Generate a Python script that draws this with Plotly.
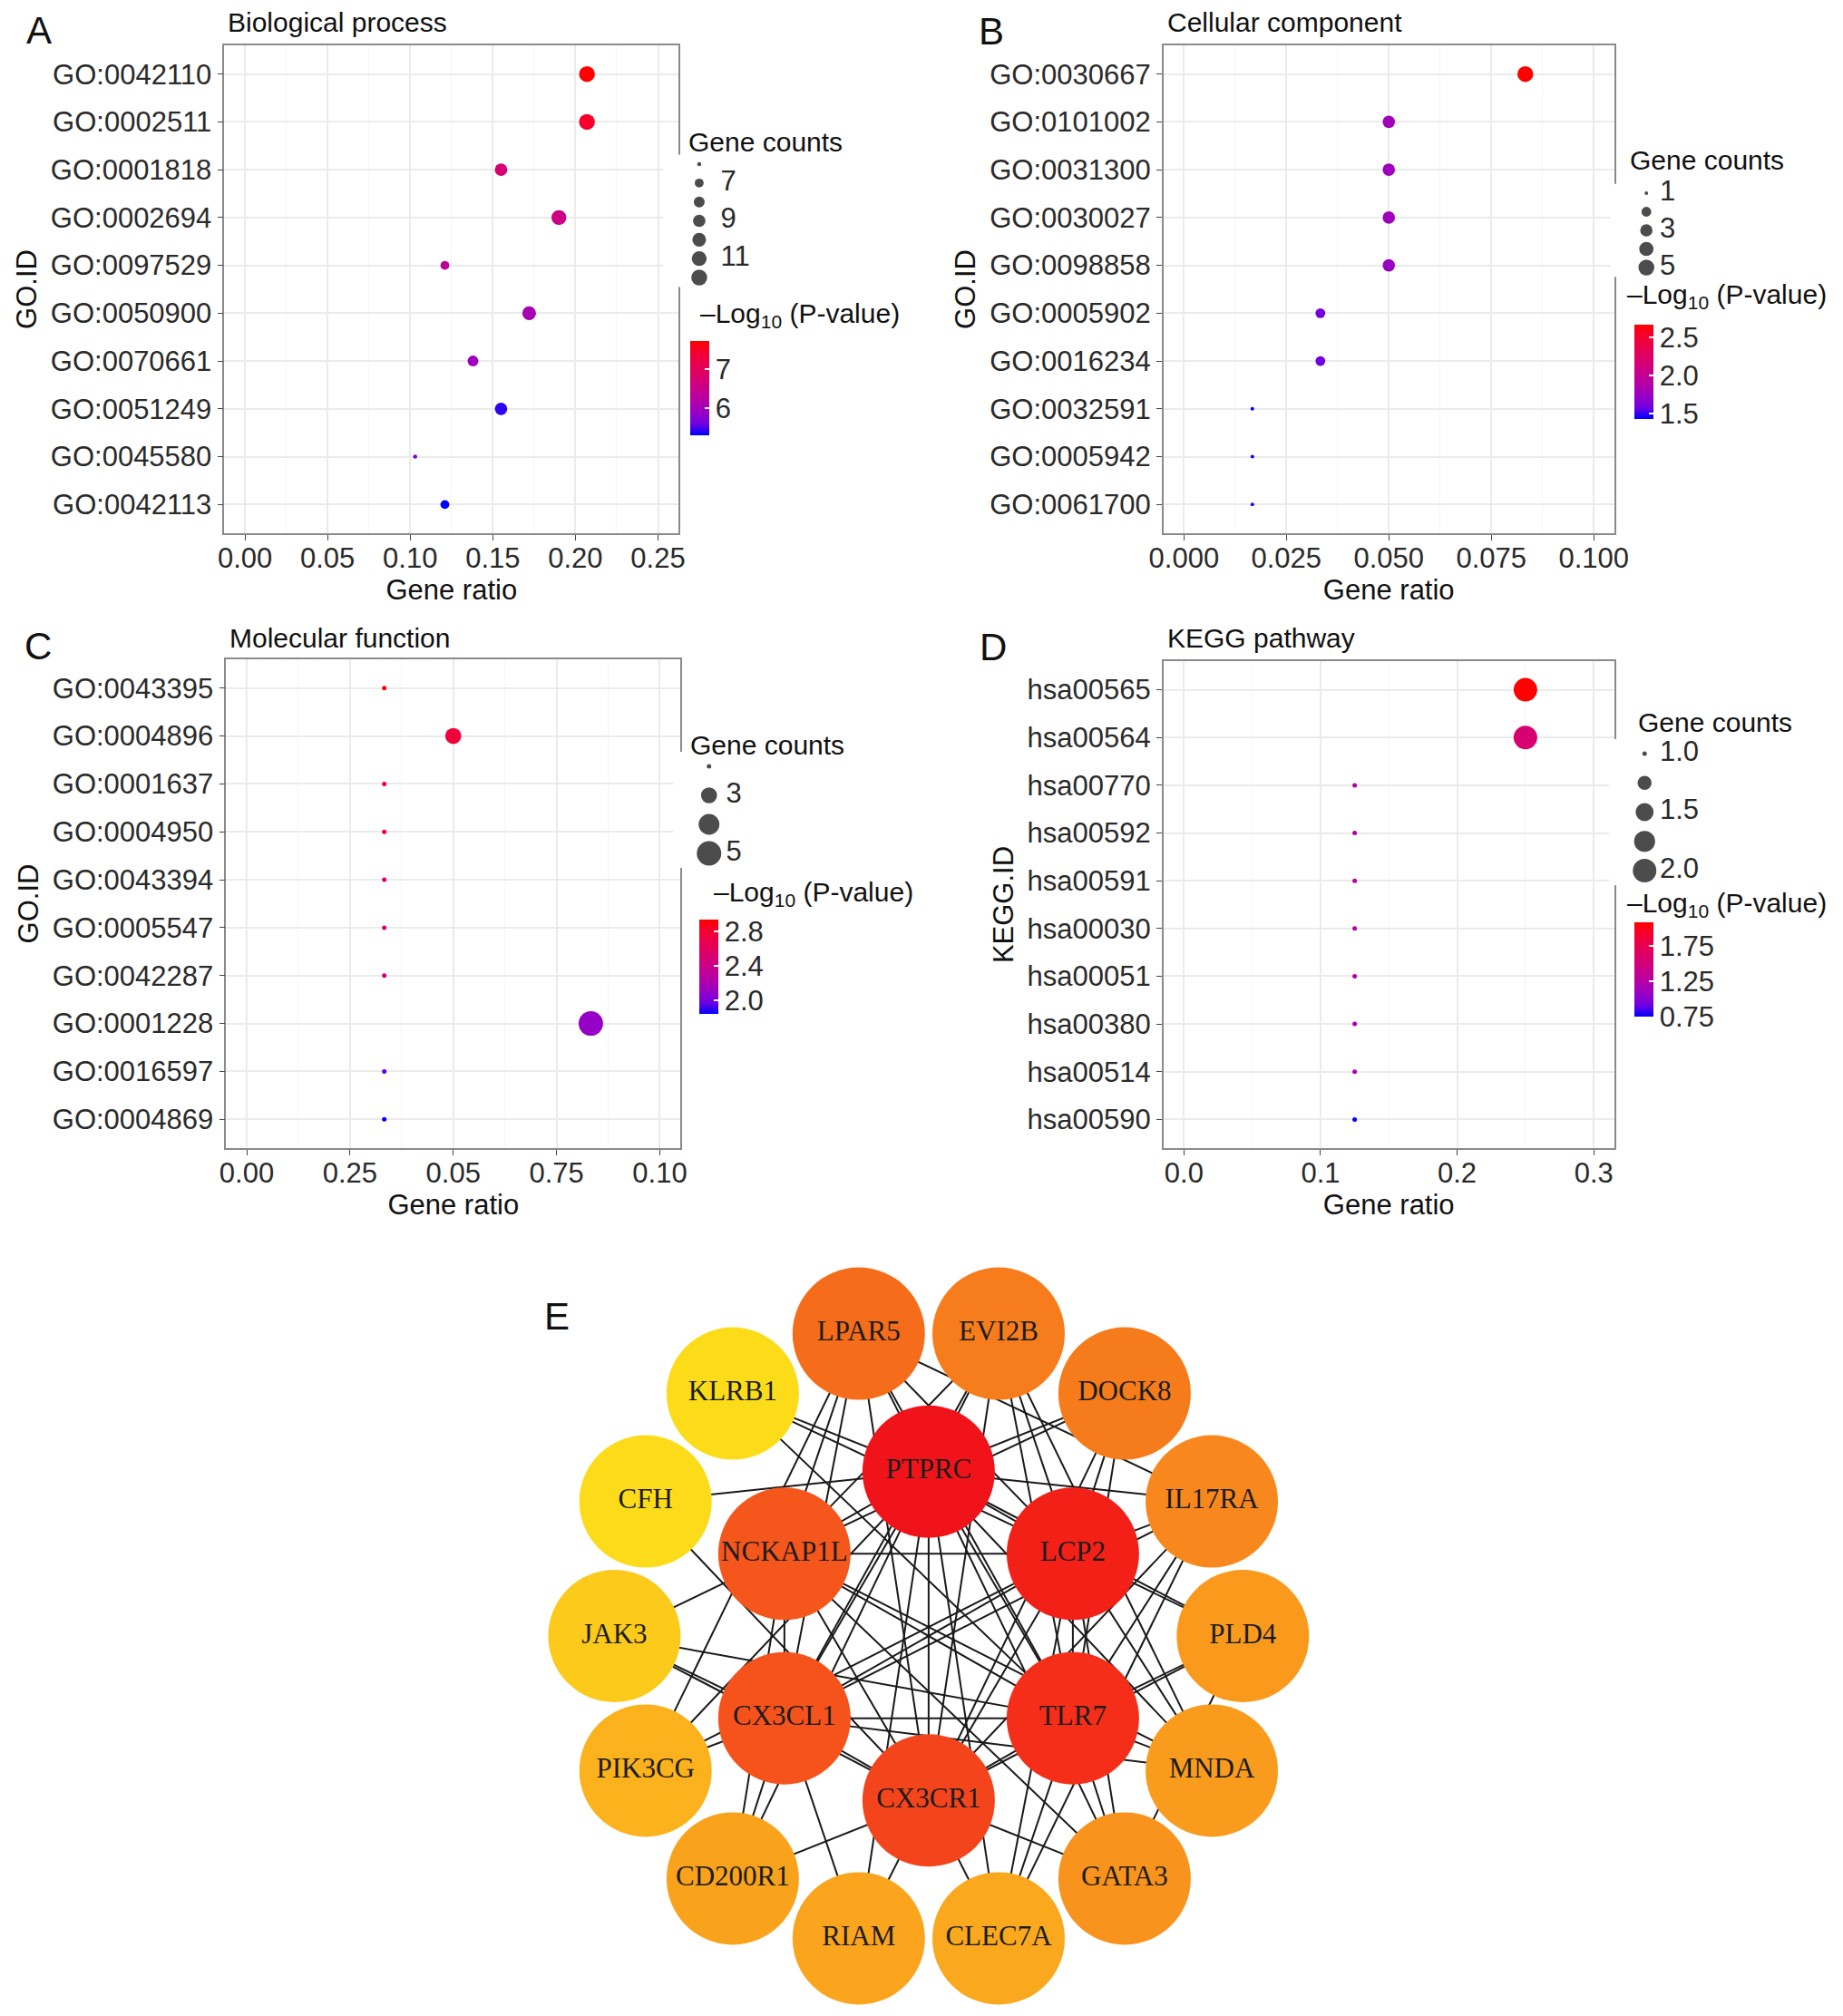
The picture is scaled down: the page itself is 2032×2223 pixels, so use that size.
import math
import plotly.graph_objects as go

W, H = 2032, 2223

# ======================= DATA =======================
# Panel A - Biological process
bp_ids = ["GO:0042110", "GO:0002511", "GO:0001818", "GO:0002694", "GO:0097529",
          "GO:0050900", "GO:0070661", "GO:0051249", "GO:0045580", "GO:0042113"]
bp_ratio = [0.207, 0.207, 0.155, 0.190, 0.121, 0.172, 0.138, 0.155, 0.103, 0.121]
bp_count = [12, 12, 9, 11, 7, 10, 8, 9, 6, 7]
bp_logp = [7.72, 7.45, 6.75, 6.55, 6.35, 6.05, 5.95, 5.42, 5.65, 5.30]
bp_size_breaks = [6, 7, 8, 9, 10, 11, 12]
bp_size_labels = ["", "7", "", "9", "", "11", ""]
bp_color_ticks = [6, 7]
bp_color_ticklabels = ["6", "7"]
bp_x_ticks = [0.0, 0.05, 0.10, 0.15, 0.20, 0.25]
bp_x_ticklabels = ["0.00", "0.05", "0.10", "0.15", "0.20", "0.25"]

# Panel B - Cellular component
cc_ids = ["GO:0030667", "GO:0101002", "GO:0031300", "GO:0030027", "GO:0098858",
          "GO:0005902", "GO:0016234", "GO:0032591", "GO:0005942", "GO:0061700"]
cc_ratio = [0.0833, 0.05, 0.05, 0.05, 0.05, 0.0333, 0.0333, 0.0167, 0.0167, 0.0167]
cc_count = [5, 3, 3, 3, 3, 2, 2, 1, 1, 1]
cc_logp = [2.67, 1.78, 1.77, 1.77, 1.74, 1.60, 1.58, 1.43, 1.46, 1.46]
cc_size_breaks = [1, 2, 3, 4, 5]
cc_size_labels = ["1", "", "3", "", "5"]
cc_color_ticks = [1.5, 2.0, 2.5]
cc_color_ticklabels = ["1.5", "2.0", "2.5"]
cc_x_ticks = [0.0, 0.025, 0.05, 0.075, 0.10]
cc_x_ticklabels = ["0.000", "0.025", "0.050", "0.075", "0.100"]

# Panel C - Molecular function
mf_ids = ["GO:0043395", "GO:0004896", "GO:0001637", "GO:0004950", "GO:0043394",
          "GO:0005547", "GO:0042287", "GO:0001228", "GO:0016597", "GO:0004869"]
mf_ratio = [0.0333, 0.05, 0.0333, 0.0333, 0.0333, 0.0333, 0.0333, 0.0833, 0.0333, 0.0333]
mf_count = [2, 3, 2, 2, 2, 2, 2, 5, 2, 2]
mf_logp = [2.94, 2.76, 2.82, 2.80, 2.50, 2.46, 2.44, 2.10, 1.95, 1.84]
mf_size_breaks = [2, 3, 4, 5]
mf_size_labels = ["", "3", "", "5"]
mf_color_ticks = [2.0, 2.4, 2.8]
mf_color_ticklabels = ["2.0", "2.4", "2.8"]
mf_x_ticks = [0.0, 0.025, 0.05, 0.075, 0.10]
mf_x_ticklabels = ["0.00", "0.25", "0.05", "0.75", "0.10"]

# Panel D - KEGG pathway
kegg_ids = ["hsa00565", "hsa00564", "hsa00770", "hsa00592", "hsa00591",
            "hsa00030", "hsa00051", "hsa00380", "hsa00514", "hsa00590"]
kegg_ratio = [0.25, 0.25, 0.125, 0.125, 0.125, 0.125, 0.125, 0.125, 0.125, 0.125]
kegg_count = [2, 2, 1, 1, 1, 1, 1, 1, 1, 1]
kegg_logp = [2.08, 1.56, 1.32, 1.28, 1.27, 1.25, 1.24, 1.20, 1.18, 0.75]
kegg_size_breaks = [1.0, 1.25, 1.5, 1.75, 2.0]
kegg_size_labels = ["1.0", "", "1.5", "", "2.0"]
kegg_color_ticks = [0.75, 1.25, 1.75]
kegg_color_ticklabels = ["0.75", "1.25", "1.75"]
kegg_x_ticks = [0.0, 0.1, 0.2, 0.3]
kegg_x_ticklabels = ["0.0", "0.1", "0.2", "0.3"]

# Panel E - PPI network
hub_genes = ["PTPRC", "LCP2", "TLR7", "CX3CR1", "CX3CL1", "NCKAP1L"]
outer_genes = ["PLD4", "MNDA", "GATA3", "CLEC7A", "RIAM", "CD200R1", "PIK3CG",
               "JAK3", "CFH", "KLRB1", "LPAR5", "EVI2B", "DOCK8", "IL17RA"]
node_colors = {
    "PTPRC": "#F0141A", "LCP2": "#F32017", "TLR7": "#F42E18", "CX3CR1": "#F4441C",
    "CX3CL1": "#F5521C", "NCKAP1L": "#F5561C",
    "LPAR5": "#F56C1A", "EVI2B": "#F77D1C", "DOCK8": "#F67B1B", "IL17RA": "#F8881E",
    "PLD4": "#F99A1D", "MNDA": "#F99C1D", "GATA3": "#F8931D", "CLEC7A": "#FAA81E",
    "RIAM": "#FAA51D", "CD200R1": "#F9A21C", "PIK3CG": "#FBB21D", "JAK3": "#FBCA1B",
    "CFH": "#FCDB1A", "KLRB1": "#FCDC19",
}
edges = [
    ("PTPRC", "LCP2"), ("PTPRC", "TLR7"), ("PTPRC", "CX3CR1"), ("PTPRC", "CX3CL1"), ("PTPRC", "NCKAP1L"),
    ("LCP2", "NCKAP1L"), ("LCP2", "CX3CL1"), ("LCP2", "TLR7"), ("LCP2", "CX3CR1"),
    ("TLR7", "CX3CL1"), ("TLR7", "CX3CR1"), ("TLR7", "NCKAP1L"),
    ("CX3CR1", "CX3CL1"), ("CX3CR1", "NCKAP1L"), ("CX3CL1", "NCKAP1L"),
    ("PTPRC", "CFH"), ("PTPRC", "KLRB1"), ("PTPRC", "LPAR5"), ("PTPRC", "EVI2B"), ("PTPRC", "DOCK8"),
    ("PTPRC", "IL17RA"), ("PTPRC", "PLD4"), ("PTPRC", "MNDA"), ("PTPRC", "GATA3"), ("PTPRC", "CLEC7A"),
    ("PTPRC", "RIAM"), ("PTPRC", "CD200R1"), ("PTPRC", "PIK3CG"),
    ("LCP2", "KLRB1"), ("LCP2", "LPAR5"), ("LCP2", "EVI2B"), ("LCP2", "DOCK8"), ("LCP2", "IL17RA"),
    ("LCP2", "PLD4"), ("LCP2", "MNDA"), ("LCP2", "GATA3"), ("LCP2", "CLEC7A"), ("LCP2", "PIK3CG"),
    ("TLR7", "KLRB1"), ("TLR7", "LPAR5"), ("TLR7", "EVI2B"), ("TLR7", "DOCK8"), ("TLR7", "IL17RA"),
    ("TLR7", "PLD4"), ("TLR7", "MNDA"), ("TLR7", "GATA3"), ("TLR7", "CLEC7A"), ("TLR7", "JAK3"),
    ("CX3CR1", "JAK3"), ("CX3CR1", "CFH"), ("CX3CR1", "CD200R1"), ("CX3CR1", "RIAM"), ("CX3CR1", "CLEC7A"),
    ("CX3CR1", "GATA3"), ("CX3CR1", "PLD4"), ("CX3CR1", "IL17RA"), ("CX3CR1", "LPAR5"), ("CX3CR1", "EVI2B"),
    ("CX3CR1", "DOCK8"),
    ("CX3CL1", "JAK3"), ("CX3CL1", "PIK3CG"), ("CX3CL1", "CD200R1"), ("CX3CL1", "RIAM"), ("CX3CL1", "LPAR5"),
    ("CX3CL1", "EVI2B"), ("CX3CL1", "IL17RA"), ("CX3CL1", "MNDA"),
    ("NCKAP1L", "JAK3"), ("NCKAP1L", "CD200R1"), ("NCKAP1L", "LPAR5"), ("NCKAP1L", "EVI2B"),
    ("NCKAP1L", "DOCK8"), ("NCKAP1L", "GATA3"), ("NCKAP1L", "MNDA"),
    ("PIK3CG", "LPAR5"), ("GATA3", "PLD4"), ("CLEC7A", "IL17RA"), ("MNDA", "EVI2B"), ("IL17RA", "LPAR5"),
]

# ======================= STYLE =======================
SANS = "Liberation Sans, Arial, Helvetica, sans-serif"
SERIF = "Liberation Serif, Times New Roman, serif"
TXT = "#2a2a2a"
FS = 31
COLORSCALE = [[0.0, "#0000FF"], [0.125, "#7300E0"], [0.25, "#9A00C2"], [0.375, "#B500A5"],
              [0.5, "#C90089"], [0.625, "#DA006C"], [0.75, "#E8004F"], [0.875, "#F40031"],
              [1.0, "#FF0000"]]


def px_x(a, b):
    return [a / W, b / W]


def px_y(top, bottom):
    return [1 - bottom / H, 1 - top / H]


def diam(v, vmin, vmax, dmin, dmax):
    if vmax == vmin:
        return dmax
    return dmin + (dmax - dmin) * math.sqrt((v - vmin) / (vmax - vmin))


panels = [
    dict(ids=bp_ids, ratio=bp_ratio, count=bp_count, logp=bp_logp,
         sb=bp_size_breaks, sl=bp_size_labels, ct=bp_color_ticks, ctl=bp_color_ticklabels,
         xt=bp_x_ticks, xtl=bp_x_ticklabels, minor=0.025, xr=[-0.0125, 0.2625],
         frame=(235, 744, 50, 588), title="Biological process", titley=25, letter="A", ytitle="GO.ID",
         dmin=4.5, dmax=17.5, leg=(767, 791, 181, 306), legtitle=(753, 156),
         cb=(757, 376), cbtitle=(766, 347), letterpos=(27, 33)),
    dict(ids=cc_ids, ratio=cc_ratio, count=cc_count, logp=cc_logp,
         sb=cc_size_breaks, sl=cc_size_labels, ct=cc_color_ticks, ctl=cc_color_ticklabels,
         xt=cc_x_ticks, xtl=cc_x_ticklabels, minor=0.0125, xr=[-0.005, 0.105],
         frame=(1287, 1792, 50, 588), title="Cellular component", titley=25, letter="B", ytitle="GO.ID",
         dmin=4, dmax=17.5, leg=(1828, 1843, 213, 295), legtitle=(1807, 177),
         cb=(1815, 358), cbtitle=(1804, 326), letterpos=(1094, 34)),
    dict(ids=mf_ids, ratio=mf_ratio, count=mf_count, logp=mf_logp,
         sb=mf_size_breaks, sl=mf_size_labels, ct=mf_color_ticks, ctl=mf_color_ticklabels,
         xt=mf_x_ticks, xtl=mf_x_ticklabels, minor=0.0125, xr=[-0.005, 0.105],
         frame=(237, 746, 727, 1266), title="Molecular function", titley=703, letter="C", ytitle="GO.ID",
         dmin=5, dmax=27, leg=(778, 797, 845, 941), legtitle=(755, 822),
         cb=(767, 1014), cbtitle=(781, 986), letterpos=(26, 712)),
    dict(ids=kegg_ids, ratio=kegg_ratio, count=kegg_count, logp=kegg_logp,
         sb=kegg_size_breaks, sl=kegg_size_labels, ct=kegg_color_ticks, ctl=kegg_color_ticklabels,
         xt=kegg_x_ticks, xtl=kegg_x_ticklabels, minor=0.05, xr=[-0.015, 0.315],
         frame=(1287, 1792, 729, 1266), title="KEGG pathway", titley=703, letter="D", ytitle="KEGG.ID",
         dmin=5, dmax=26, leg=(1826, 1843, 831, 960), legtitle=(1817, 797),
         cb=(1815, 1017), cbtitle=(1804, 997), letterpos=(1096, 713)),
]

fig = go.Figure()
layout = {}
annotations = []


def axkey(prefix, i):
    return prefix + ("" if i == 1 else str(i))


for k, p in enumerate(panels):
    i = k + 1
    xa, ya = axkey("xaxis", i), axkey("yaxis", i)
    xr_, yr_ = axkey("x", i), axkey("y", i)
    l, r, t, b = p["frame"]
    cmin, cmax = min(p["logp"]), max(p["logp"])
    vmin, vmax = min(p["count"]), max(p["count"])
    sizes = [diam(c, vmin, vmax, p["dmin"], p["dmax"]) for c in p["count"]]
    fig.add_trace(go.Scatter(
        x=p["ratio"], y=p["ids"], mode="markers", xaxis=xr_, yaxis=yr_,
        marker=dict(size=sizes, color=p["logp"], colorscale=COLORSCALE, cmin=cmin, cmax=cmax,
                    line=dict(width=0), opacity=1,
                    colorbar=dict(x=p["cb"][0] / W, xanchor="left", y=1 - p["cb"][1] / H, yanchor="top",
                                  len=104, lenmode="pixels", thickness=21, thicknessmode="pixels",
                                  outlinewidth=0, xpad=0, ypad=0,
                                  tickmode="array", tickvals=p["ct"], ticktext=p["ctl"],
                                  ticks="inside", ticklen=5, tickcolor="white", tickwidth=1.5,
                                  tickfont=dict(size=FS, color=TXT, family=SANS))),
        showlegend=False, hoverinfo="x+y"))
    layout[xa] = dict(domain=px_x(l, r), anchor=yr_, range=p["xr"], tickmode="array",
                      tickvals=p["xt"], ticktext=p["xtl"], showgrid=True, gridcolor="#EBEBEB",
                      gridwidth=1.6, zeroline=False, showline=True, mirror=True, linecolor="#8a8a8a",
                      linewidth=1.5, ticks="outside", ticklen=6, tickcolor="#444", tickwidth=1.4,
                      ticklabelstandoff=-7,
                      tickfont=dict(size=FS, color=TXT, family=SANS),
                      title=dict(text="Gene ratio", font=dict(size=FS, color="#111", family=SANS), standoff=5),
                      minor=dict(tickmode="linear", tick0=0, dtick=p["minor"], showgrid=True,
                                 gridcolor="#F5F5F5", gridwidth=1, ticks=""))
    layout[ya] = dict(domain=px_y(t, b), anchor=xr_, type="category", categoryorder="array",
                      categoryarray=p["ids"], range=[len(p["ids"]) - 0.4, -0.6], showgrid=True,
                      gridcolor="#EBEBEB", gridwidth=1.6, zeroline=False, showline=True, mirror=True,
                      linecolor="#8a8a8a", linewidth=1.5, ticks="outside", ticklen=6, tickcolor="#444",
                      tickwidth=1.4, tickfont=dict(size=FS, color=TXT, family=SANS),
                      title=dict(text=p["ytitle"], font=dict(size=FS, color="#111", family=SANS), standoff=6))

    # ---- size legend (Gene counts) ----
    j = i + 4
    lxa, lya = axkey("xaxis", j), axkey("yaxis", j)
    lxr, lyr = axkey("x", j), axkey("y", j)
    dot_x, lab_x, y0, y1 = p["leg"]
    n = len(p["sb"])
    sp = (y1 - y0) / (n - 1)
    idx = list(range(n))
    fig.add_trace(go.Scatter(
        x=[dot_x] * n, y=idx, mode="markers", xaxis=lxr, yaxis=lyr,
        marker=dict(size=[diam(v, vmin, vmax, p["dmin"], p["dmax"]) for v in p["sb"]], color="black",
                    line=dict(width=0)),
        cliponaxis=False, showlegend=False, hoverinfo="skip"))
    lab_idx = [q for q in idx if p["sl"][q]]
    fig.add_trace(go.Scatter(
        x=[lab_x] * len(lab_idx), y=lab_idx, mode="text", text=[p["sl"][q] for q in lab_idx],
        textposition="middle right",
        textfont=dict(size=FS, color=TXT, family=SANS), xaxis=lxr, yaxis=lyr,
        cliponaxis=False, showlegend=False, hoverinfo="skip"))
    layout[lxa] = dict(domain=px_x(dot_x - 40, dot_x + 140), range=[dot_x - 40, dot_x + 140],
                       visible=False, anchor=lyr, fixedrange=True)
    layout[lya] = dict(domain=px_y(y0 - sp / 2, y1 + sp / 2), range=[n - 0.5, -0.5],
                       visible=False, anchor=lxr, fixedrange=True)

    # ---- text annotations ----
    annotations.append(dict(text=p["title"], x=(l + 2) / W, y=1 - p["titley"] / H,
                            xref="paper", yref="paper", xanchor="left", yanchor="middle",
                            showarrow=False, font=dict(size=30, color="#111", family=SANS)))
    annotations.append(dict(text=p["letter"], x=p["letterpos"][0] / W, y=1 - p["letterpos"][1] / H,
                            xref="paper", yref="paper", xanchor="center", yanchor="middle",
                            showarrow=False, font=dict(size=42, color="#111", family=SANS)))
    annotations.append(dict(text="Gene counts", x=p["legtitle"][0] / W, y=1 - p["legtitle"][1] / H,
                            xref="paper", yref="paper", xanchor="left", yanchor="middle",
                            showarrow=False, font=dict(size=30, color="#111", family=SANS)))
    annotations.append(dict(text="\u2013Log<sub>10</sub> (P-value)", x=p["cbtitle"][0] / W,
                            y=1 - p["cbtitle"][1] / H, xref="paper", yref="paper",
                            xanchor="left", yanchor="middle", showarrow=False,
                            font=dict(size=30, color="#111", family=SANS)))

# ======================= NETWORK (E) =======================
CX, CY = 1024, 1804          # network centre in px
UX, UY = 352, 342            # px per layout unit
HUB_R = 0.53                 # inner ring radius (layout units)
pos = {}
for m, g in enumerate(hub_genes):
    a = math.radians(-90 + 60 * m)
    pos[g] = (HUB_R * math.cos(a), -HUB_R * math.sin(a))
for m, g in enumerate(outer_genes):
    a = math.radians(360.0 / len(outer_genes) * m)
    pos[g] = (math.cos(a), -math.sin(a))

ex, ey = [], []
for a, b in edges:
    ex += [pos[a][0], pos[b][0], None]
    ey += [pos[a][1], pos[b][1], None]
fig.add_trace(go.Scatter(x=ex, y=ey, mode="lines", xaxis="x9", yaxis="y9",
                         line=dict(color="#1a1a1a", width=2), hoverinfo="skip", showlegend=False))
order = outer_genes + hub_genes
fig.add_trace(go.Scatter(
    x=[pos[g][0] for g in order], y=[pos[g][1] for g in order], mode="markers+text",
    text=order, textposition="middle center", xaxis="x9", yaxis="y9",
    textfont=dict(family=SERIF, size=31, color="#1c1c1c"),
    marker=dict(size=146, color=[node_colors[g] for g in order], line=dict(width=0), opacity=1),
    hoverinfo="text", showlegend=False, cliponaxis=False))
NL, NR, NT, NB = 560, 1490, 1380, 2223
layout["xaxis9"] = dict(domain=px_x(NL, NR), range=[(NL - CX) / UX, (NR - CX) / UX],
                        visible=False, anchor="y9", fixedrange=True)
layout["yaxis9"] = dict(domain=px_y(NT, NB), range=[-(NB - CY) / UY, (CY - NT) / UY],
                        visible=False, anchor="x9", fixedrange=True)
annotations.append(dict(text="E", x=608 / W, y=1 - 1452 / H, xref="paper", yref="paper",
                        xanchor="center", yanchor="middle", showarrow=False,
                        font=dict(size=42, color="#111", family=SANS)))

fig.update_layout(width=W, height=H, margin=dict(l=0, r=0, t=0, b=0),
                  paper_bgcolor="white", plot_bgcolor="white", showlegend=False,
                  font=dict(family=SANS, color=TXT), annotations=annotations, **layout)

fig.write_html("out.html", config={"displayModeBar": False},
               post_script="document.body.style.margin='0px';")
